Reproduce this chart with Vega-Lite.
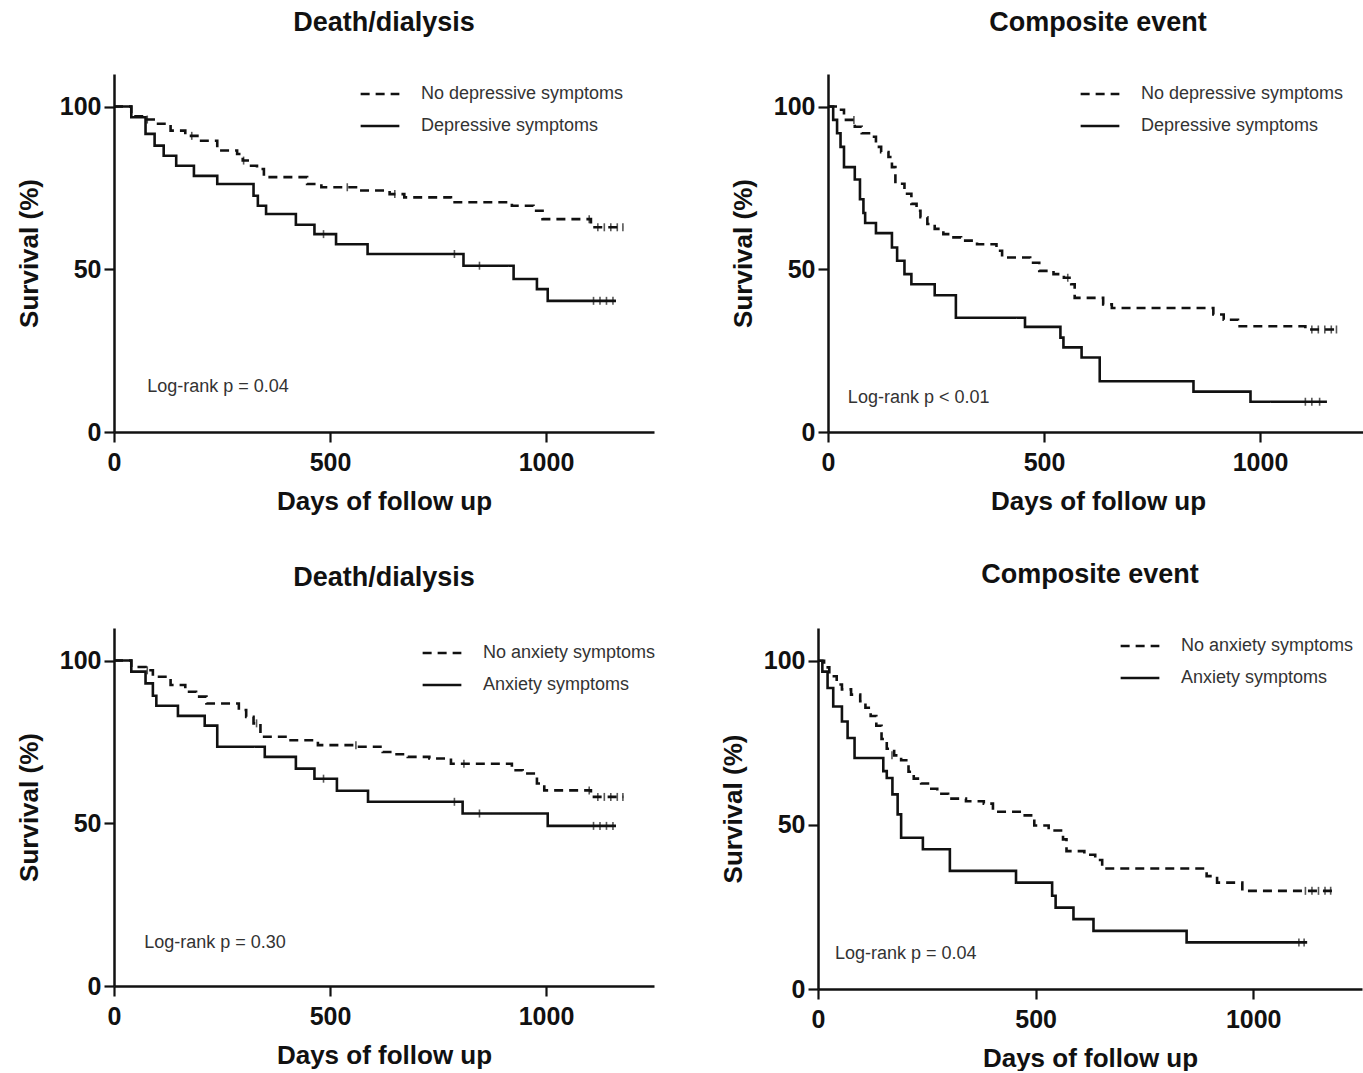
{
  "$schema": "https://vega.github.io/schema/vega-lite/v6.json",
  "background": "white",
  "padding": {"left": 16, "top": 9, "right": 0, "bottom": 0},
  "datasets": {
    "curves": [
      {"p":1,"g":"Depressive symptoms","t":0,"s":100},{"p":1,"g":"Depressive symptoms","t":40,"s":96.7},{"p":1,"g":"Depressive symptoms","t":73,"s":91.6},{"p":1,"g":"Depressive symptoms","t":94,"s":88},{"p":1,"g":"Depressive symptoms","t":115,"s":84.9},{"p":1,"g":"Depressive symptoms","t":144,"s":81.8},{"p":1,"g":"Depressive symptoms","t":185,"s":78.7},{"p":1,"g":"Depressive symptoms","t":239,"s":76.2},{"p":1,"g":"Depressive symptoms","t":323,"s":72.6},{"p":1,"g":"Depressive symptoms","t":333,"s":69.5},{"p":1,"g":"Depressive symptoms","t":352,"s":67},{"p":1,"g":"Depressive symptoms","t":421,"s":63.7},{"p":1,"g":"Depressive symptoms","t":464,"s":60.8},{"p":1,"g":"Depressive symptoms","t":514,"s":57.7},{"p":1,"g":"Depressive symptoms","t":587,"s":54.7},{"p":1,"g":"Depressive symptoms","t":809,"s":51.1},{"p":1,"g":"Depressive symptoms","t":925,"s":47},{"p":1,"g":"Depressive symptoms","t":979,"s":43.9},{"p":1,"g":"Depressive symptoms","t":1004,"s":40.3},{"p":1,"g":"Depressive symptoms","t":1162,"s":40.3},
      {"p":1,"g":"No depressive symptoms","t":0,"s":100},{"p":1,"g":"No depressive symptoms","t":40,"s":97},{"p":1,"g":"No depressive symptoms","t":73,"s":96},{"p":1,"g":"No depressive symptoms","t":98,"s":94.7},{"p":1,"g":"No depressive symptoms","t":131,"s":92.6},{"p":1,"g":"No depressive symptoms","t":165,"s":91},{"p":1,"g":"No depressive symptoms","t":198,"s":89.5},{"p":1,"g":"No depressive symptoms","t":239,"s":86.5},{"p":1,"g":"No depressive symptoms","t":285,"s":85.4},{"p":1,"g":"No depressive symptoms","t":298,"s":83.4},{"p":1,"g":"No depressive symptoms","t":314,"s":81.8},{"p":1,"g":"No depressive symptoms","t":331,"s":80.8},{"p":1,"g":"No depressive symptoms","t":347,"s":78.3},{"p":1,"g":"No depressive symptoms","t":447,"s":76.2},{"p":1,"g":"No depressive symptoms","t":480,"s":75.2},{"p":1,"g":"No depressive symptoms","t":564,"s":74.2},{"p":1,"g":"No depressive symptoms","t":638,"s":73.1},{"p":1,"g":"No depressive symptoms","t":672,"s":72.1},{"p":1,"g":"No depressive symptoms","t":780,"s":70.6},{"p":1,"g":"No depressive symptoms","t":921,"s":69.5},{"p":1,"g":"No depressive symptoms","t":971,"s":68},{"p":1,"g":"No depressive symptoms","t":992,"s":65.4},{"p":1,"g":"No depressive symptoms","t":1104,"s":62.9},{"p":1,"g":"No depressive symptoms","t":1179,"s":62.9},
      {"p":2,"g":"Depressive symptoms","t":0,"s":100},{"p":2,"g":"Depressive symptoms","t":12,"s":95.9},{"p":2,"g":"Depressive symptoms","t":21,"s":91.8},{"p":2,"g":"Depressive symptoms","t":29,"s":87.6},{"p":2,"g":"Depressive symptoms","t":37,"s":81.4},{"p":2,"g":"Depressive symptoms","t":62,"s":77.6},{"p":2,"g":"Depressive symptoms","t":74,"s":71.5},{"p":2,"g":"Depressive symptoms","t":82,"s":67.3},{"p":2,"g":"Depressive symptoms","t":86,"s":64.2},{"p":2,"g":"Depressive symptoms","t":111,"s":61.1},{"p":2,"g":"Depressive symptoms","t":148,"s":56.7},{"p":2,"g":"Depressive symptoms","t":160,"s":52.6},{"p":2,"g":"Depressive symptoms","t":177,"s":48.5},{"p":2,"g":"Depressive symptoms","t":193,"s":45.4},{"p":2,"g":"Depressive symptoms","t":247,"s":42},{"p":2,"g":"Depressive symptoms","t":296,"s":35.1},{"p":2,"g":"Depressive symptoms","t":456,"s":32.3},{"p":2,"g":"Depressive symptoms","t":538,"s":29},{"p":2,"g":"Depressive symptoms","t":545,"s":26},{"p":2,"g":"Depressive symptoms","t":587,"s":22.9},{"p":2,"g":"Depressive symptoms","t":629,"s":15.6},{"p":2,"g":"Depressive symptoms","t":846,"s":12.4},{"p":2,"g":"Depressive symptoms","t":978,"s":9.3},{"p":2,"g":"Depressive symptoms","t":1155,"s":9.3},
      {"p":2,"g":"No depressive symptoms","t":0,"s":100},{"p":2,"g":"No depressive symptoms","t":25,"s":99},{"p":2,"g":"No depressive symptoms","t":37,"s":95.9},{"p":2,"g":"No depressive symptoms","t":62,"s":93.8},{"p":2,"g":"No depressive symptoms","t":78,"s":91.8},{"p":2,"g":"No depressive symptoms","t":99,"s":90.7},{"p":2,"g":"No depressive symptoms","t":111,"s":87.6},{"p":2,"g":"No depressive symptoms","t":123,"s":86},{"p":2,"g":"No depressive symptoms","t":140,"s":84.5},{"p":2,"g":"No depressive symptoms","t":148,"s":81.4},{"p":2,"g":"No depressive symptoms","t":156,"s":76.3},{"p":2,"g":"No depressive symptoms","t":177,"s":73.2},{"p":2,"g":"No depressive symptoms","t":193,"s":70.1},{"p":2,"g":"No depressive symptoms","t":205,"s":68},{"p":2,"g":"No depressive symptoms","t":214,"s":66},{"p":2,"g":"No depressive symptoms","t":230,"s":63.9},{"p":2,"g":"No depressive symptoms","t":247,"s":62.4},{"p":2,"g":"No depressive symptoms","t":267,"s":60.8},{"p":2,"g":"No depressive symptoms","t":283,"s":59.8},{"p":2,"g":"No depressive symptoms","t":308,"s":58.8},{"p":2,"g":"No depressive symptoms","t":345,"s":57.7},{"p":2,"g":"No depressive symptoms","t":390,"s":55.7},{"p":2,"g":"No depressive symptoms","t":403,"s":53.6},{"p":2,"g":"No depressive symptoms","t":468,"s":52},{"p":2,"g":"No depressive symptoms","t":489,"s":49.5},{"p":2,"g":"No depressive symptoms","t":522,"s":48.5},{"p":2,"g":"No depressive symptoms","t":546,"s":47.4},{"p":2,"g":"No depressive symptoms","t":563,"s":45.4},{"p":2,"g":"No depressive symptoms","t":571,"s":41.2},{"p":2,"g":"No depressive symptoms","t":637,"s":39.2},{"p":2,"g":"No depressive symptoms","t":657,"s":38.1},{"p":2,"g":"No depressive symptoms","t":892,"s":36.1},{"p":2,"g":"No depressive symptoms","t":916,"s":34.5},{"p":2,"g":"No depressive symptoms","t":949,"s":32.5},{"p":2,"g":"No depressive symptoms","t":1105,"s":31.5},{"p":2,"g":"No depressive symptoms","t":1179,"s":31.5},
      {"p":3,"g":"Anxiety symptoms","t":0,"s":100},{"p":3,"g":"Anxiety symptoms","t":40,"s":96.6},{"p":3,"g":"Anxiety symptoms","t":73,"s":93},{"p":3,"g":"Anxiety symptoms","t":90,"s":89.2},{"p":3,"g":"Anxiety symptoms","t":98,"s":86.1},{"p":3,"g":"Anxiety symptoms","t":148,"s":83},{"p":3,"g":"Anxiety symptoms","t":210,"s":80},{"p":3,"g":"Anxiety symptoms","t":239,"s":73.5},{"p":3,"g":"Anxiety symptoms","t":349,"s":70.4},{"p":3,"g":"Anxiety symptoms","t":421,"s":66.8},{"p":3,"g":"Anxiety symptoms","t":464,"s":63.7},{"p":3,"g":"Anxiety symptoms","t":516,"s":60},{"p":3,"g":"Anxiety symptoms","t":588,"s":56.6},{"p":3,"g":"Anxiety symptoms","t":807,"s":53},{"p":3,"g":"Anxiety symptoms","t":1004,"s":49.2},{"p":3,"g":"Anxiety symptoms","t":1162,"s":49.2},
      {"p":3,"g":"No anxiety symptoms","t":0,"s":100},{"p":3,"g":"No anxiety symptoms","t":40,"s":98},{"p":3,"g":"No anxiety symptoms","t":73,"s":97},{"p":3,"g":"No anxiety symptoms","t":90,"s":95},{"p":3,"g":"No anxiety symptoms","t":131,"s":92.5},{"p":3,"g":"No anxiety symptoms","t":165,"s":90.4},{"p":3,"g":"No anxiety symptoms","t":190,"s":88.9},{"p":3,"g":"No anxiety symptoms","t":214,"s":86.8},{"p":3,"g":"No anxiety symptoms","t":289,"s":84.8},{"p":3,"g":"No anxiety symptoms","t":306,"s":82.7},{"p":3,"g":"No anxiety symptoms","t":323,"s":80.7},{"p":3,"g":"No anxiety symptoms","t":339,"s":76.6},{"p":3,"g":"No anxiety symptoms","t":397,"s":75.5},{"p":3,"g":"No anxiety symptoms","t":472,"s":74},{"p":3,"g":"No anxiety symptoms","t":564,"s":73.5},{"p":3,"g":"No anxiety symptoms","t":622,"s":71.9},{"p":3,"g":"No anxiety symptoms","t":647,"s":71.2},{"p":3,"g":"No anxiety symptoms","t":680,"s":70.4},{"p":3,"g":"No anxiety symptoms","t":730,"s":69.9},{"p":3,"g":"No anxiety symptoms","t":780,"s":68.3},{"p":3,"g":"No anxiety symptoms","t":921,"s":66.3},{"p":3,"g":"No anxiety symptoms","t":946,"s":65.3},{"p":3,"g":"No anxiety symptoms","t":979,"s":62.2},{"p":3,"g":"No anxiety symptoms","t":996,"s":60.1},{"p":3,"g":"No anxiety symptoms","t":1104,"s":58.1},{"p":3,"g":"No anxiety symptoms","t":1179,"s":58.1},
      {"p":4,"g":"Anxiety symptoms","t":0,"s":100},{"p":4,"g":"Anxiety symptoms","t":10,"s":96.7},{"p":4,"g":"Anxiety symptoms","t":22,"s":91.7},{"p":4,"g":"Anxiety symptoms","t":35,"s":86.1},{"p":4,"g":"Anxiety symptoms","t":55,"s":81.5},{"p":4,"g":"Anxiety symptoms","t":68,"s":76.5},{"p":4,"g":"Anxiety symptoms","t":84,"s":70.4},{"p":4,"g":"Anxiety symptoms","t":150,"s":66.4},{"p":4,"g":"Anxiety symptoms","t":158,"s":64.3},{"p":4,"g":"Anxiety symptoms","t":171,"s":59.3},{"p":4,"g":"Anxiety symptoms","t":183,"s":53.2},{"p":4,"g":"Anxiety symptoms","t":191,"s":46.1},{"p":4,"g":"Anxiety symptoms","t":241,"s":42.6},{"p":4,"g":"Anxiety symptoms","t":303,"s":36},{"p":4,"g":"Anxiety symptoms","t":455,"s":32.4},{"p":4,"g":"Anxiety symptoms","t":538,"s":28.4},{"p":4,"g":"Anxiety symptoms","t":546,"s":24.8},{"p":4,"g":"Anxiety symptoms","t":587,"s":21.3},{"p":4,"g":"Anxiety symptoms","t":633,"s":17.7},{"p":4,"g":"Anxiety symptoms","t":847,"s":14.2},{"p":4,"g":"Anxiety symptoms","t":1124,"s":14.2},
      {"p":4,"g":"No anxiety symptoms","t":0,"s":100},{"p":4,"g":"No anxiety symptoms","t":14,"s":98},{"p":4,"g":"No anxiety symptoms","t":26,"s":95.3},{"p":4,"g":"No anxiety symptoms","t":43,"s":92.8},{"p":4,"g":"No anxiety symptoms","t":55,"s":91.3},{"p":4,"g":"No anxiety symptoms","t":76,"s":89.7},{"p":4,"g":"No anxiety symptoms","t":97,"s":87.7},{"p":4,"g":"No anxiety symptoms","t":109,"s":85.7},{"p":4,"g":"No anxiety symptoms","t":121,"s":83.2},{"p":4,"g":"No anxiety symptoms","t":134,"s":80.2},{"p":4,"g":"No anxiety symptoms","t":146,"s":76.2},{"p":4,"g":"No anxiety symptoms","t":158,"s":73.2},{"p":4,"g":"No anxiety symptoms","t":175,"s":71.2},{"p":4,"g":"No anxiety symptoms","t":191,"s":69.7},{"p":4,"g":"No anxiety symptoms","t":208,"s":66.2},{"p":4,"g":"No anxiety symptoms","t":220,"s":64.1},{"p":4,"g":"No anxiety symptoms","t":237,"s":62.6},{"p":4,"g":"No anxiety symptoms","t":257,"s":61},{"p":4,"g":"No anxiety symptoms","t":274,"s":59.5},{"p":4,"g":"No anxiety symptoms","t":299,"s":58},{"p":4,"g":"No anxiety symptoms","t":340,"s":57.2},{"p":4,"g":"No anxiety symptoms","t":381,"s":56.5},{"p":4,"g":"No anxiety symptoms","t":402,"s":54},{"p":4,"g":"No anxiety symptoms","t":472,"s":52.9},{"p":4,"g":"No anxiety symptoms","t":497,"s":49.8},{"p":4,"g":"No anxiety symptoms","t":530,"s":48.3},{"p":4,"g":"No anxiety symptoms","t":563,"s":45.6},{"p":4,"g":"No anxiety symptoms","t":571,"s":42},{"p":4,"g":"No anxiety symptoms","t":612,"s":40.9},{"p":4,"g":"No anxiety symptoms","t":637,"s":39.3},{"p":4,"g":"No anxiety symptoms","t":653,"s":36.7},{"p":4,"g":"No anxiety symptoms","t":893,"s":34.4},{"p":4,"g":"No anxiety symptoms","t":917,"s":32.4},{"p":4,"g":"No anxiety symptoms","t":975,"s":29.9},{"p":4,"g":"No anxiety symptoms","t":1181,"s":29.9}
    ],
    "cens": [
      {"p":1,"t":485,"s":60.8},{"p":1,"t":788,"s":54.7},{"p":1,"t":846,"s":51.1},{"p":1,"t":1110,"s":40.3},{"p":1,"t":1125,"s":40.3},{"p":1,"t":1140,"s":40.3},{"p":1,"t":1155,"s":40.3},
      {"p":1,"t":77,"s":96},{"p":1,"t":180,"s":91},{"p":1,"t":300,"s":83.4},{"p":1,"t":540,"s":75.2},{"p":1,"t":650,"s":73.1},{"p":1,"t":1100,"s":65.4},{"p":1,"t":1120,"s":62.9},{"p":1,"t":1135,"s":62.9},{"p":1,"t":1150,"s":62.9},{"p":1,"t":1165,"s":62.9},{"p":1,"t":1178,"s":62.9},
      {"p":2,"t":1105,"s":9.3},{"p":2,"t":1120,"s":9.3},{"p":2,"t":1138,"s":9.3},
      {"p":2,"t":60,"s":95.9},{"p":2,"t":555,"s":47.4},{"p":2,"t":1120,"s":31.5},{"p":2,"t":1135,"s":31.5},{"p":2,"t":1150,"s":31.5},{"p":2,"t":1165,"s":31.5},{"p":2,"t":1177,"s":31.5},
      {"p":3,"t":485,"s":63.7},{"p":3,"t":788,"s":56.6},{"p":3,"t":846,"s":53},{"p":3,"t":1110,"s":49.2},{"p":3,"t":1125,"s":49.2},{"p":3,"t":1140,"s":49.2},{"p":3,"t":1155,"s":49.2},
      {"p":3,"t":77,"s":97},{"p":3,"t":330,"s":80.7},{"p":3,"t":560,"s":74},{"p":3,"t":810,"s":68.3},{"p":3,"t":1100,"s":60.1},{"p":3,"t":1120,"s":58.1},{"p":3,"t":1135,"s":58.1},{"p":3,"t":1150,"s":58.1},{"p":3,"t":1165,"s":58.1},{"p":3,"t":1178,"s":58.1},
      {"p":4,"t":1105,"s":14.2},{"p":4,"t":1117,"s":14.2},
      {"p":4,"t":170,"s":71.2},{"p":4,"t":1120,"s":29.9},{"p":4,"t":1135,"s":29.9},{"p":4,"t":1150,"s":29.9},{"p":4,"t":1165,"s":29.9},{"p":4,"t":1178,"s":29.9}
    ],
    "notes": [
      {"p":1,"t":77,"s":13.8,"label":"Log-rank p = 0.04"},
      {"p":2,"t":46,"s":10.5,"label":"Log-rank p < 0.01"},
      {"p":3,"t":70,"s":13.2,"label":"Log-rank p = 0.30"},
      {"p":4,"t":39,"s":10.6,"label":"Log-rank p = 0.04"}
    ]
  },
  "vconcat": [
    {
      "hconcat": [
        {
          "width": 540, "height": 358,
          "title": "Death/dialysis",
          "layer": [
            {"data": {"name": "curves"}, "transform": [{"filter": "datum.p == 1"}],
             "mark": {"type": "line", "interpolate": "step-after", "color": "#111", "strokeWidth": 2.6},
             "encoding": {
               "x": {"field": "t", "type": "quantitative", "scale": {"domain": [0, 1250], "nice": false}, "axis": {"title": "Days of follow up", "values": [0, 500, 1000], "format": "d"}},
               "y": {"field": "s", "type": "quantitative", "scale": {"domain": [0, 110], "nice": false}, "axis": {"title": "Survival (%)", "values": [0, 50, 100]}},
               "strokeDash": {"field": "g", "type": "nominal", "scale": {"domain": ["No depressive symptoms", "Depressive symptoms"], "range": [[9, 6], [1, 0]]}, "legend": {"orient": "none", "legendX": 245, "legendY": -1, "title": null}}
             }},
            {"data": {"name": "cens"}, "transform": [{"filter": "datum.p == 1"}],
             "mark": {"type": "tick", "orient": "vertical", "color": "#111", "size": 8, "thickness": 1.6},
             "encoding": {"x": {"field": "t", "type": "quantitative"}, "y": {"field": "s", "type": "quantitative"}}},
            {"data": {"name": "notes"}, "transform": [{"filter": "datum.p == 1"}],
             "mark": {"type": "text", "align": "left", "baseline": "middle", "fontSize": 18, "font": "Liberation Sans", "color": "#333"},
             "encoding": {"x": {"field": "t", "type": "quantitative"}, "y": {"field": "s", "type": "quantitative"}, "text": {"field": "label"}}}
          ]
        },
        {
          "width": 540, "height": 358,
          "title": "Composite event",
          "layer": [
            {"data": {"name": "curves"}, "transform": [{"filter": "datum.p == 2"}],
             "mark": {"type": "line", "interpolate": "step-after", "color": "#111", "strokeWidth": 2.6},
             "encoding": {
               "x": {"field": "t", "type": "quantitative", "scale": {"domain": [0, 1250], "nice": false}, "axis": {"title": "Days of follow up", "values": [0, 500, 1000], "format": "d"}},
               "y": {"field": "s", "type": "quantitative", "scale": {"domain": [0, 110], "nice": false}, "axis": {"title": "Survival (%)", "values": [0, 50, 100]}},
               "strokeDash": {"field": "g", "type": "nominal", "scale": {"domain": ["No depressive symptoms", "Depressive symptoms"], "range": [[9, 6], [1, 0]]}, "legend": {"orient": "none", "legendX": 251, "legendY": -1, "title": null}}
             }},
            {"data": {"name": "cens"}, "transform": [{"filter": "datum.p == 2"}],
             "mark": {"type": "tick", "orient": "vertical", "color": "#111", "size": 8, "thickness": 1.6},
             "encoding": {"x": {"field": "t", "type": "quantitative"}, "y": {"field": "s", "type": "quantitative"}}},
            {"data": {"name": "notes"}, "transform": [{"filter": "datum.p == 2"}],
             "mark": {"type": "text", "align": "left", "baseline": "middle", "fontSize": 18, "font": "Liberation Sans", "color": "#333"},
             "encoding": {"x": {"field": "t", "type": "quantitative"}, "y": {"field": "s", "type": "quantitative"}, "text": {"field": "label"}}}
          ]
        }
      ],
      "spacing": 174,
      "bounds": "flush",
      "resolve": {"scale": {"strokeDash": "independent"}, "legend": {"strokeDash": "independent"}}
    },
    {
      "hconcat": [
        {
          "width": 540, "height": 358,
          "title": "Death/dialysis",
          "layer": [
            {"data": {"name": "curves"}, "transform": [{"filter": "datum.p == 3"}],
             "mark": {"type": "line", "interpolate": "step-after", "color": "#111", "strokeWidth": 2.6},
             "encoding": {
               "x": {"field": "t", "type": "quantitative", "scale": {"domain": [0, 1250], "nice": false}, "axis": {"title": "Days of follow up", "values": [0, 500, 1000], "format": "d"}},
               "y": {"field": "s", "type": "quantitative", "scale": {"domain": [0, 110], "nice": false}, "axis": {"title": "Survival (%)", "values": [0, 50, 100]}},
               "strokeDash": {"field": "g", "type": "nominal", "scale": {"domain": ["No anxiety symptoms", "Anxiety symptoms"], "range": [[9, 6], [1, 0]]}, "legend": {"orient": "none", "legendX": 307, "legendY": 4, "title": null}}
             }},
            {"data": {"name": "cens"}, "transform": [{"filter": "datum.p == 3"}],
             "mark": {"type": "tick", "orient": "vertical", "color": "#111", "size": 8, "thickness": 1.6},
             "encoding": {"x": {"field": "t", "type": "quantitative"}, "y": {"field": "s", "type": "quantitative"}}},
            {"data": {"name": "notes"}, "transform": [{"filter": "datum.p == 3"}],
             "mark": {"type": "text", "align": "left", "baseline": "middle", "fontSize": 18, "font": "Liberation Sans", "color": "#333"},
             "encoding": {"x": {"field": "t", "type": "quantitative"}, "y": {"field": "s", "type": "quantitative"}, "text": {"field": "label"}}}
          ]
        },
        {
          "width": 544, "height": 361,
          "title": "Composite event",
          "layer": [
            {"data": {"name": "curves"}, "transform": [{"filter": "datum.p == 4"}],
             "mark": {"type": "line", "interpolate": "step-after", "color": "#111", "strokeWidth": 2.6},
             "encoding": {
               "x": {"field": "t", "type": "quantitative", "scale": {"domain": [0, 1250], "nice": false}, "axis": {"title": "Days of follow up", "values": [0, 500, 1000], "format": "d"}},
               "y": {"field": "s", "type": "quantitative", "scale": {"domain": [0, 110], "nice": false}, "axis": {"title": "Survival (%)", "values": [0, 50, 100]}},
               "strokeDash": {"field": "g", "type": "nominal", "scale": {"domain": ["No anxiety symptoms", "Anxiety symptoms"], "range": [[9, 6], [1, 0]]}, "legend": {"orient": "none", "legendX": 301, "legendY": -3, "title": null}}
             }},
            {"data": {"name": "cens"}, "transform": [{"filter": "datum.p == 4"}],
             "mark": {"type": "tick", "orient": "vertical", "color": "#111", "size": 8, "thickness": 1.6},
             "encoding": {"x": {"field": "t", "type": "quantitative"}, "y": {"field": "s", "type": "quantitative"}}},
            {"data": {"name": "notes"}, "transform": [{"filter": "datum.p == 4"}],
             "mark": {"type": "text", "align": "left", "baseline": "middle", "fontSize": 18, "font": "Liberation Sans", "color": "#333"},
             "encoding": {"x": {"field": "t", "type": "quantitative"}, "y": {"field": "s", "type": "quantitative"}, "text": {"field": "label"}}}
          ]
        }
      ],
      "spacing": 164,
      "bounds": "flush",
      "resolve": {"scale": {"strokeDash": "independent"}, "legend": {"strokeDash": "independent"}}
    }
  ],
  "spacing": 47,
  "bounds": "full",
  "resolve": {"scale": {"strokeDash": "independent"}, "legend": {"strokeDash": "independent"}},
  "config": {
    "view": {"stroke": null},
    "font": "Liberation Sans",
    "title": {"font": "Liberation Sans", "fontSize": 27, "fontWeight": "bold", "color": "#111", "anchor": "middle", "offset": 36},
    "axis": {"domainColor": "#111", "domainWidth": 2.5, "tickColor": "#111", "tickWidth": 2.2, "tickSize": 10, "grid": false, "labelFlush": false,
             "labelFont": "Liberation Sans", "labelFontWeight": "bold", "labelFontSize": 25, "labelColor": "#111",
             "titleFont": "Liberation Sans", "titleFontWeight": "bold", "titleFontSize": 26, "titleColor": "#111"},
    "axisX": {"labelPadding": 8, "titlePadding": 13},
    "axisY": {"labelPadding": 3, "titlePadding": 17},
    "legend": {"labelFont": "Liberation Sans", "labelFontSize": 18, "labelColor": "#333", "labelLimit": 0, "symbolType": "stroke", "symbolSize": 1500,
               "symbolStrokeWidth": 2.5, "symbolStrokeColor": "#111", "labelOffset": 20, "rowPadding": 2, "padding": 0}
  }
}
